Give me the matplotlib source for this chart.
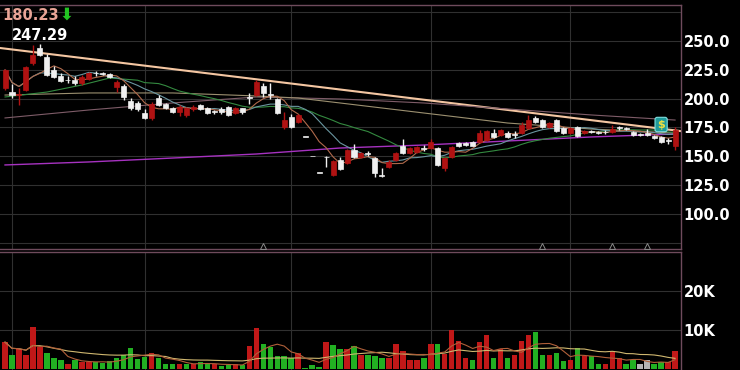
import numpy as np
import pandas as pd
import matplotlib
matplotlib.use("Agg")
import matplotlib.pyplot as plt

# daily candles (price), volume in thousands
opens = [209.2, 205.7, 203.2, 207.5, 230.9, 243.7, 236.1, 224.8, 219.6, 216.2,
         216.1, 213.8, 217.0, 222.6, 222.2, 221.4, 210.1, 210.9, 197.9, 196.2,
         187.5, 183.2, 200.5, 195.3, 191.5, 188.4, 185.8, 191.0, 194.4, 191.8,
         188.8, 191.0, 192.7, 187.5, 191.5, 200.8, 203.1, 210.9, 203.5, 199.7,
         175.3, 184.0, 179.7, 166.7, 149.8, 135.8, 149.5, 133.7, 146.7, 144.1,
         155.4, 149.3, 152.6, 148.4, 133.7, 140.6, 146.7, 158.5, 152.8, 153.5,
         157.5, 157.1, 157.1, 139.8, 149.3, 161.5, 161.8, 162.0, 162.3, 164.1,
         170.0, 168.4, 170.5, 169.2, 170.1, 174.5, 183.4, 181.0, 175.4, 181.4,
         174.5, 170.1, 175.4, 170.0, 171.5, 171.0, 171.0, 171.0, 175.0, 174.0,
         171.0, 168.6, 170.5, 167.5, 166.7, 164.0, 158.5]
highs = [226.0, 212.7, 209.5, 228.3, 246.5, 247.29, 238.5, 228.3, 222.5, 219.6,
         219.6, 220.5, 223.1, 224.0, 223.1, 222.2, 216.1, 212.5, 200.5, 197.9,
         190.9, 197.0, 203.1, 196.2, 192.7, 194.4, 192.7, 194.4, 195.3, 192.7,
         190.5, 193.0, 193.6, 192.7, 192.0, 204.9, 216.1, 213.5, 213.5, 200.5,
         188.4, 186.6, 186.6, 166.7, 149.8, 135.8, 149.8, 146.5, 149.3, 156.2,
         160.6, 153.6, 154.5, 149.3, 139.8, 146.7, 153.6, 164.9, 158.0, 158.8,
         159.7, 164.9, 158.0, 149.3, 158.8, 162.5, 162.5, 163.0, 172.7, 172.7,
         173.6, 173.6, 171.9, 171.9, 180.0, 186.0, 184.9, 182.3, 179.7, 182.3,
         175.4, 175.4, 176.2, 173.0, 173.0, 171.9, 172.7, 177.5, 176.2, 175.4,
         171.9, 169.8, 173.6, 168.4, 167.5, 165.8, 175.0]
lows = [207.5, 200.5, 194.4, 206.6, 229.2, 237.0, 220.0, 217.8, 214.4, 213.7,
        211.8, 211.8, 216.1, 220.0, 220.5, 217.8, 205.7, 198.8, 190.1, 189.2,
        182.3, 181.4, 193.6, 190.9, 187.5, 184.9, 184.0, 189.2, 190.1, 186.6,
        186.6, 187.0, 184.9, 186.6, 187.0, 195.3, 202.3, 201.4, 199.7, 186.6,
        173.6, 174.5, 178.8, 166.7, 149.8, 135.8, 141.0, 132.8, 138.0, 143.2,
        148.4, 148.4, 150.2, 131.9, 131.9, 139.8, 145.8, 152.0, 151.5, 152.8,
        154.1, 156.2, 141.5, 137.1, 148.4, 158.0, 158.8, 158.5, 161.5, 163.2,
        165.8, 167.5, 166.0, 165.8, 169.3, 173.6, 178.8, 174.5, 174.5, 171.0,
        169.3, 169.3, 166.7, 169.3, 170.1, 169.3, 169.3, 170.1, 172.7, 172.7,
        167.5, 167.5, 167.5, 165.0, 161.5, 160.6, 155.0]
closes = [224.8, 203.1, 203.6, 227.4, 237.5, 238.0, 220.5, 218.7, 215.3, 215.8,
          213.5, 218.5, 222.2, 221.8, 221.2, 218.7, 214.4, 201.4, 191.8, 191.0,
          183.2, 195.3, 194.4, 191.8, 188.5, 192.7, 191.8, 192.7, 191.0, 187.5,
          188.3, 188.0, 185.8, 191.8, 188.0, 200.4, 214.4, 204.9, 203.0, 187.5,
          181.4, 175.3, 185.8, 166.7, 149.8, 135.8, 149.0, 145.8, 138.9, 155.4,
          149.3, 152.8, 151.9, 135.4, 132.8, 145.0, 152.8, 153.2, 157.1, 157.8,
          156.5, 162.3, 142.4, 148.4, 158.0, 159.0, 159.5, 159.2, 170.1, 171.9,
          166.7, 172.7, 167.0, 168.4, 177.1, 181.4, 179.7, 175.5, 178.8, 171.9,
          170.1, 174.5, 167.5, 172.0, 171.0, 170.5, 170.7, 173.6, 174.2, 173.5,
          168.4, 168.4, 168.4, 165.8, 162.3, 163.5, 173.0]
volumes = [6.9, 3.7, 5.0, 3.7, 10.8, 5.7, 4.0, 2.7, 2.3, 1.4,
           2.4, 1.7, 1.8, 1.8, 1.5, 2.0, 2.9, 3.7, 5.5, 2.6,
           3.1, 4.0, 2.9, 1.4, 1.2, 1.4, 1.4, 1.2, 1.7, 1.3,
           1.2, 0.7, 0.9, 1.4, 0.9, 5.8, 10.4, 6.5, 5.7, 3.4,
           3.4, 2.9, 4.0, 0.2, 0.9, 0.5, 6.8, 6.2, 5.0, 5.0,
           6.0, 3.6, 3.5, 3.3, 2.9, 2.8, 6.5, 4.6, 2.4, 2.2,
           2.9, 6.3, 6.5, 3.9, 10.0, 7.3, 2.9, 2.2, 6.8, 8.8,
           2.9, 5.2, 2.7, 3.5, 7.1, 8.8, 9.6, 3.5, 3.7, 4.2,
           2.0, 2.4, 5.5, 3.3, 3.3, 1.4, 1.2, 4.7, 2.7, 1.4,
           2.2, 1.2, 2.2, 1.4, 1.9, 1.7, 4.7]

# longer moving averages, read at a few days
ma20_lead_idx = [0, 6, 11, 15]
ma20_lead = [201.4, 205.7, 211.8, 217.9]
ma60_idx = [0, 12, 24, 36, 42, 48, 60, 72, 84, 96]
ma60 = [203.1, 204.9, 204.9, 202.3, 200.5, 196.2, 187.5, 178.8, 173.6, 170.1]
ma120_idx = [0, 12, 24, 36, 48, 60, 72, 84, 96]
ma120 = [183.2, 190.1, 196.2, 201.4, 199.7, 196.2, 191.0, 185.8, 181.4]
ma200_idx = [0, 12, 24, 36, 48, 60, 72, 84, 96]
ma200 = [142.4, 145.0, 148.4, 151.9, 157.1, 159.7, 163.2, 166.7, 169.3]
trend_pts = [(0, 243.4), (96, 172.4)]

month_starts = [1, 20, 41, 61, 81]
event_idx = [37, 77, 87, 92]
dividend_idx = 94
price_ticks = [75, 100, 125, 150, 175, 200, 225, 250, 275]
vol_ticks = [10, 20]
last_label = "180.23"
high_label = "247.29"

W, H = 740, 370
BG = "black"
GRID = "#303030"
FRAME = "#6f4b5c"
RED = "#b01212"
WHITE = "#f0f0f0"

fig = plt.figure(figsize=(W / 100, H / 100), dpi=100, facecolor=BG)
ax = fig.add_axes([0, 1 - 249 / H, 681 / W, 244 / H], facecolor=BG)
axv = fig.add_axes([0, 0, 681 / W, 118 / H], facecolor=BG)

n = len(closes)
x = np.arange(n)
o = np.array(opens)
c = np.array(closes)
hi = np.array(highs)
lo = np.array(lows)
up = c > o
col = np.where(up, RED, WHITE)

# moving averages
s = pd.Series(closes)
ma5 = s.rolling(5, min_periods=1).mean()
ma10 = s.rolling(10, min_periods=1).mean()
ma20 = s.rolling(20).mean()
ma20_x = ma20_lead_idx + list(range(19, n))
ma20_y = ma20_lead + list(ma20[19:])

ax.axline(trend_pts[0], trend_pts[1], color="#f4c6a2", lw=1.5, zorder=2)
ax.plot(ma200_idx, ma200, color="#a632c0", lw=1.0, zorder=2)
ax.plot(ma120_idx, ma120, color="#7e5c68", lw=0.8, zorder=2)
ax.plot(ma60_idx, ma60, color="#9c9070", lw=0.8, zorder=2)
ax.plot(ma20_x, ma20_y, color="#348a40", lw=0.8, zorder=2)
ax.plot(x, ma10, color="#6a96a0", lw=0.8, zorder=2)
ax.plot(x, ma5, color="#b06a4c", lw=0.8, zorder=2)

# candles
ax.vlines(x, lo, hi, colors=col, lw=1.0, zorder=3)
body = np.maximum(np.abs(c - o), 0.7)
ax.bar(x, body, bottom=np.minimum(o, c), width=0.72, color=col,
       edgecolor=col, lw=0.5, zorder=4)

ax.plot(event_idx, [72.0] * len(event_idx), ls="none", marker="^", ms=4,
        mfc="none", mec="#8a8a8a", mew=0.7, zorder=3)
ax.text(dividend_idx, 177.5, "$", color="#f0e040", fontsize=8, fontweight="bold",
        ha="center", va="center", zorder=6,
        bbox=dict(boxstyle="round,pad=0.2", fc="#1e9a9a", ec="#80e0e0", lw=0.8))

# volume
prev = np.r_[c[0] - 1, c[:-1]]
vcol = np.where(c > prev, "#c01818", np.where(c < prev, "#22b022", "#b4b4b4"))
axv.bar(x, volumes, width=0.78, color=vcol, zorder=3)
vs = pd.Series(volumes)
axv.plot(x, vs.rolling(20, min_periods=1).mean(), color="#d0b870", lw=0.8, zorder=4)
axv.plot(x, vs.rolling(5, min_periods=1).mean(), color="#b0603a", lw=0.8, zorder=4)

for a in (ax, axv):
    a.set_xlim(-0.72, 96.85)
    for m in month_starts:
        a.axvline(m, color=GRID, lw=0.8, zorder=1)
    a.set_xticks([])
    a.spines["left"].set_visible(False)
    for sp in ("top", "right", "bottom"):
        a.spines[sp].set_color(FRAME)
        a.spines[sp].set_linewidth(1.0)
    a.tick_params(axis="y", left=False, labelleft=False, right=True,
                  labelright=True, length=0, pad=2, labelcolor="white",
                  labelsize=10.5)

ax.set_ylim(69.44, 281.25)
ax.set_yticks(price_ticks)
ax.set_yticklabels(["" if t in (75, 275) else f"{t:.1f}" for t in price_ticks],
                   fontweight="bold")
ax.grid(axis="y", color=GRID, lw=0.8, zorder=1)

axv.set_ylim(-0.26, 30.0)
axv.set_yticks(vol_ticks)
axv.set_yticklabels([f"{t}K" for t in vol_ticks], fontweight="bold")
axv.grid(axis="y", color=GRID, lw=0.8, zorder=1)
axv.spines["bottom"].set_visible(False)

fig.text(2 / W, 1 - 15 / H, last_label, color="#e8a496", fontsize=10.5,
         fontweight="bold", va="center", ha="left")
fig.text(59 / W, 1 - 15 / H, "\u2b07", color="#22c322", fontsize=12,
         fontweight="bold", va="center", ha="left")
fig.text(12 / W, 1 - 35 / H, high_label, color="white", fontsize=10.5,
         fontweight="bold", va="center", ha="left")

fig.savefig("out.png", dpi=100, facecolor=BG)
